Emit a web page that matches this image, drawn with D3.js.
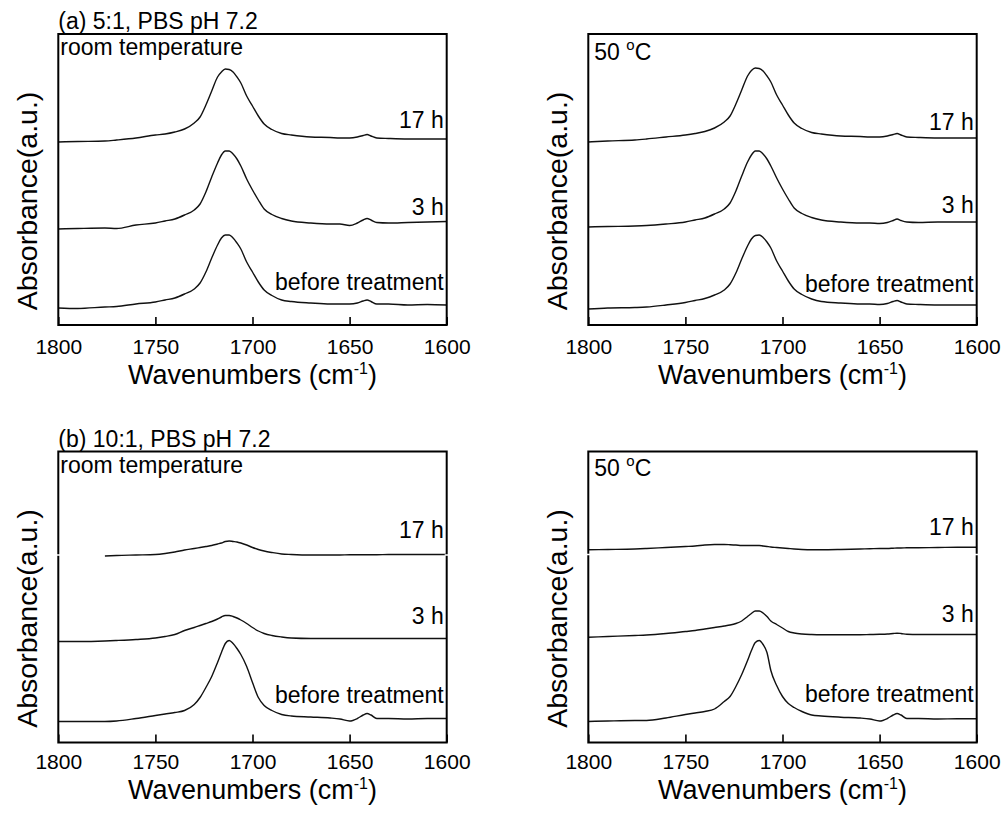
<!DOCTYPE html>
<html>
<head>
<meta charset="utf-8">
<script src="https://cdn.jsdelivr.net/npm/d3@7/dist/d3.min.js"></script>
<style>
  html, body { margin: 0; padding: 0; background: #fff; }
  svg { display: block; }
  text { font-family: "Liberation Sans", Arial, Helvetica, sans-serif; fill: #000; }
</style>
</head>
<body>
<svg id="chart" width="1006" height="816"></svg>
<script>
// Shared wavenumber grid (cm-1), denser around the carbonyl band
const wavenumbers = [1800,1790,1776,1770,1760,1750,1745,1740,1735,1730,
  1727,1724,1721,1718,1716,1714,1712,1710,1708,1706,
  1703,1700,1697,1694,1690,1685,1680,1670,1660,1655,
  1650,1646,1643,1641,1639,1636,1630,1620,1610,1600];

const xTicks = [1800, 1750, 1700, 1650, 1600];
const seriesLabels = ["before treatment", "3 h", "17 h"];

// (a) 5:1, room temperature — stacked absorbance (offset a.u.)
const aRoomBefore = [0.17,0.165,0.18,0.185,0.21,0.23,0.25,0.27,0.31,0.36,
  0.42,0.53,0.67,0.80,0.87,0.90,0.90,0.87,0.82,0.76,
  0.63,0.53,0.43,0.35,0.295,0.25,0.235,0.22,0.21,0.21,
  0.21,0.22,0.24,0.25,0.235,0.21,0.21,0.20,0.205,0.20];
const aRoom3h = [0.96,0.965,0.97,0.965,1.00,1.02,1.04,1.06,1.10,1.15,
  1.21,1.33,1.48,1.62,1.70,1.74,1.74,1.71,1.66,1.59,
  1.46,1.35,1.25,1.16,1.105,1.065,1.04,1.02,1.01,1.01,
  0.995,1.02,1.05,1.065,1.05,1.025,1.02,1.025,1.03,1.035];
const aRoom17h = [1.83,1.835,1.84,1.85,1.87,1.90,1.91,1.93,1.96,2.02,
  2.08,2.20,2.34,2.48,2.53,2.56,2.555,2.53,2.48,2.42,
  2.29,2.19,2.09,2.01,1.955,1.915,1.90,1.88,1.875,1.87,
  1.87,1.88,1.895,1.905,1.89,1.87,1.865,1.86,1.86,1.86];

// (a) 5:1, 50 °C
const aHotBefore = [0.16,0.17,0.175,0.18,0.20,0.225,0.245,0.265,0.30,0.35,
  0.41,0.52,0.66,0.79,0.86,0.895,0.90,0.875,0.83,0.77,
  0.64,0.54,0.44,0.36,0.305,0.26,0.235,0.22,0.21,0.21,
  0.205,0.215,0.235,0.245,0.23,0.21,0.205,0.20,0.20,0.20];
const aHot3h = [0.98,0.985,0.99,0.995,1.01,1.03,1.05,1.07,1.11,1.16,
  1.22,1.34,1.49,1.63,1.70,1.74,1.74,1.71,1.66,1.59,
  1.47,1.36,1.26,1.17,1.115,1.075,1.05,1.03,1.02,1.02,
  1.015,1.025,1.045,1.06,1.045,1.03,1.025,1.03,1.03,1.03];
const aHot17h = [1.83,1.84,1.85,1.86,1.88,1.90,1.915,1.935,1.97,2.03,
  2.09,2.21,2.35,2.49,2.545,2.57,2.565,2.54,2.49,2.43,
  2.30,2.20,2.10,2.02,1.965,1.925,1.91,1.89,1.885,1.88,
  1.88,1.89,1.905,1.915,1.90,1.88,1.875,1.87,1.87,1.87];

// (b) 10:1, room temperature
const bRoomBefore = [0.21,0.21,0.21,0.215,0.24,0.27,0.285,0.30,0.32,0.38,
  0.45,0.55,0.66,0.80,0.90,0.99,1.02,0.99,0.94,0.88,
  0.76,0.60,0.45,0.37,0.32,0.28,0.265,0.255,0.245,0.235,
  0.215,0.24,0.275,0.29,0.275,0.24,0.24,0.235,0.24,0.24];
const bRoom3h = [1.01,1.01,1.015,1.02,1.03,1.045,1.06,1.08,1.12,1.15,
  1.17,1.19,1.21,1.235,1.255,1.27,1.27,1.26,1.245,1.225,
  1.19,1.15,1.115,1.09,1.07,1.055,1.045,1.04,1.04,1.04,
  1.04,1.04,1.04,1.04,1.04,1.04,1.04,1.04,1.04,1.04];
const bRoom17h = [null,null,1.865,1.87,1.875,1.88,1.89,1.905,1.925,1.94,
  1.95,1.96,1.97,1.985,1.995,2.01,2.015,2.01,2.005,1.995,
  1.975,1.95,1.93,1.915,1.90,1.885,1.88,1.875,1.875,1.875,
  1.878,1.878,1.878,1.878,1.878,1.878,1.88,1.88,1.88,1.88];

// (b) 10:1, 50 °C
const bHotBefore = [0.21,0.215,0.22,0.22,0.245,0.28,0.295,0.31,0.335,0.41,
  0.46,0.56,0.68,0.82,0.92,1.00,1.02,0.98,0.90,0.72,
  0.57,0.46,0.39,0.35,0.31,0.275,0.265,0.253,0.245,0.235,
  0.215,0.24,0.275,0.29,0.275,0.24,0.24,0.235,0.237,0.237];
const bHot3h = [1.053,1.06,1.07,1.075,1.09,1.11,1.12,1.135,1.15,1.165,
  1.175,1.19,1.215,1.26,1.29,1.315,1.315,1.295,1.26,1.215,
  1.18,1.145,1.11,1.095,1.085,1.08,1.078,1.078,1.078,1.08,
  1.082,1.085,1.09,1.093,1.09,1.082,1.08,1.08,1.08,1.08];
const bHot17h = [1.927,1.93,1.935,1.94,1.95,1.96,1.965,1.975,1.98,1.98,
  1.978,1.975,1.97,1.97,1.97,1.97,1.97,1.965,1.96,1.955,
  1.95,1.945,1.94,1.935,1.93,1.927,1.927,1.93,1.935,1.937,
  1.94,1.94,1.943,1.945,1.945,1.947,1.948,1.95,1.953,1.953];

// Panel layout: frame in px, annotation texts and label baselines (before, 3 h, 17 h)
const panels = [
  { x0: 58.3, x1: 446.7, y0: 34, y1: 325, series: [aRoomBefore, aRoom3h, aRoom17h],
    title: "(a) 5:1, PBS pH 7.2", cond: "room temperature", condY: 55,
    labelY: [290, 215, 128], tickPad: 14.1, titleY: 384 },
  { x0: 588.3, x1: 976.7, y0: 34, y1: 325, series: [aHotBefore, aHot3h, aHot17h],
    title: null, cond: "50 °C", condY: 60,
    labelY: [292, 213, 130], tickPad: 14.1, titleY: 384 },
  { x0: 58.3, x1: 446.7, y0: 451.5, y1: 742.5, series: [bRoomBefore, bRoom3h, bRoom17h],
    title: "(b) 10:1, PBS pH 7.2", cond: "room temperature", condY: 473,
    labelY: [703, 624, 538], tickPad: 11.6, titleY: 799, gapY: 555 },
  { x0: 588.3, x1: 976.7, y0: 451.5, y1: 742.5, series: [bHotBefore, bHot3h, bHot17h],
    title: null, cond: "50 °C", condY: 476,
    labelY: [702, 622, 535], tickPad: 11.6, titleY: 799, gapY: 554.5 }
];

const svg = d3.select("#chart");

panels.forEach(p => {
  const x = d3.scaleLinear().domain([1800, 1600]).range([p.x0, p.x1]);
  const y = d3.scaleLinear().domain([0, 2.91]).range([p.y1, p.y0]);
  const g = svg.append("g");

  // spectra
  const line = d3.line()
    .defined(d => d[1] != null)
    .x(d => x(d[0]))
    .y(d => y(d[1]))
    .curve(d3.curveMonotoneX);

  p.series.forEach(vals => {
    g.append("path")
      .datum(wavenumbers.map((w, i) => [w, vals[i]]))
      .attr("fill", "none")
      .attr("stroke", "#111")
      .attr("stroke-width", 1.4)
      .attr("stroke-linejoin", "round")
      .attr("d", line);
  });

  // x axis with inward ticks
  const axis = g.append("g")
    .attr("transform", `translate(0,${p.y1})`)
    .call(d3.axisBottom(x).tickValues(xTicks).tickFormat(d3.format("d"))
      .tickSizeInner(-8).tickSizeOuter(0).tickPadding(p.tickPad));
  axis.select(".domain").remove();
  axis.selectAll(".tick line").attr("stroke", "#000").attr("stroke-width", 1.6);
  axis.selectAll(".tick text")
    .attr("font-size", 21)
    .attr("font-family", "Liberation Sans, Arial, sans-serif")
    .attr("fill", "#000");

  // frame
  g.append("rect")
    .attr("x", p.x0).attr("y", p.y0)
    .attr("width", p.x1 - p.x0).attr("height", p.y1 - p.y0)
    .attr("fill", "none").attr("stroke", "#000").attr("stroke-width", 2);

  if (p.gapY) {
    [p.x0, p.x1].forEach(bx => {
      g.append("line")
        .attr("x1", bx - 2).attr("x2", bx + 2)
        .attr("y1", p.gapY).attr("y2", p.gapY)
        .attr("stroke", "#fff").attr("stroke-width", 1.5);
    });
  }

  // axis titles
  const xt = g.append("text")
    .attr("x", (p.x0 + p.x1) / 2).attr("y", p.titleY)
    .attr("text-anchor", "middle").attr("font-size", 27);
  xt.append("tspan").text("Wavenumbers (cm");
  xt.append("tspan").attr("font-size", 16).attr("dy", -10).text("-1");
  xt.append("tspan").attr("dy", 10).text(")");

  g.append("text")
    .attr("transform", `translate(${p.x0 - 21},${(p.y0 + p.y1) / 2 + 21.5}) rotate(-90)`)
    .attr("text-anchor", "middle").attr("font-size", 28.5)
    .text("Absorbance(a.u.)");

  // panel annotations
  if (p.title) {
    g.append("text").attr("x", p.x0).attr("y", p.y0 - 5)
      .attr("font-size", 23).text(p.title);
  }
  if (p.cond === "50 °C") {
    const t = g.append("text").attr("x", p.x0 + 6).attr("y", p.condY).attr("font-size", 23);
    t.append("tspan").text("50 ");
    t.append("tspan").attr("font-size", 15).attr("dy", -10).text("o");
    t.append("tspan").attr("dy", 10).text("C");
  } else {
    g.append("text").attr("x", p.x0 + 2).attr("y", p.condY)
      .attr("font-size", 23).text(p.cond);
  }

  seriesLabels.forEach((lab, i) => {
    g.append("text")
      .attr("x", p.x1 - 3).attr("y", p.labelY[i])
      .attr("text-anchor", "end").attr("font-size", 23)
      .text(lab);
  });
});
</script>
</body>
</html>
